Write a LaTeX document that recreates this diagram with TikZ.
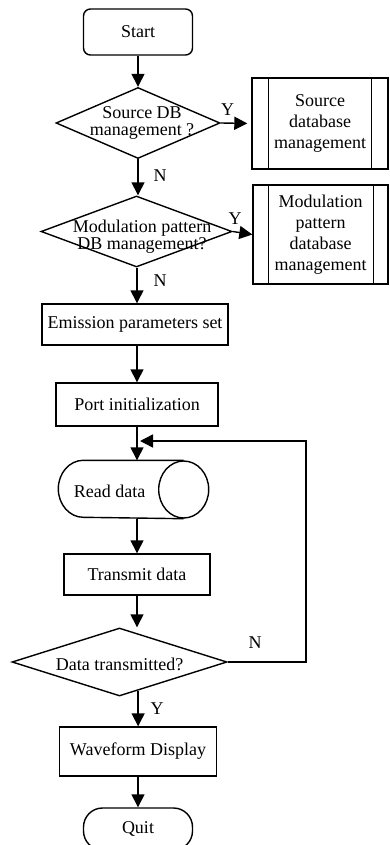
\documentclass[tikz,border=0pt]{standalone}
\usepackage{fontspec}
\setmainfont{Liberation Serif}
\usetikzlibrary{shapes.geometric,arrows.meta,calc}
\begin{document}
\begin{tikzpicture}[x=1pt,y=1pt,
  every node/.style={font=\fontsize{18}{20}\selectfont, inner sep=0pt},
  base/.style={draw, line width=1.4pt},
  proc/.style={base, rectangle},
  term/.style={base, rectangle, rounded corners=7pt},
  dec/.style={base, diamond, inner sep=0pt},
  subr/.style={base, rectangle, align=center, font=\fontsize{18}{21}\selectfont},
  dtxt/.style={align=center, font=\fontsize{18}{17}\selectfont},
  line/.style={line width=1.4pt},
  arr/.style={line width=1.4pt, -{Triangle[length=13pt,width=13pt]}},
]
\useasboundingbox (0,0) rectangle (389,-845);

% nodes
\node[term, minimum width=109pt, minimum height=46pt] (start) at (138,-32) {Start};

\node[dec, minimum width=164pt, minimum height=71pt] (d1) at (138,-123) {};
\node[dtxt] (t1) at (142,-123) {Source DB\\management ?};

\node[subr, minimum width=136pt, minimum height=91pt] (b1) at (320,-123.5) {Source\\database\\management};

\node[dec, minimum width=191pt, minimum height=71pt] (d2) at (136.5,-231.5) {};
\node[dtxt] (t2) at (142,-237) {Modulation pattern\\DB management?};

\node[subr, minimum width=135pt, minimum height=99pt] (b2) at (320.5,-234.5) {Modulation\\pattern\\database\\management};

\node[proc, minimum width=186pt, minimum height=41pt] (emis) at (135,-324.5) {Emission parameters set};
\node[proc, minimum width=162pt, minimum height=43pt] (port) at (137,-404.5) {Port initialization};

% horizontal cylinder (stored data)
\node[rectangle, minimum width=149pt, minimum height=57pt, outer sep=0.7pt] (read) at (133.5,-489.5) {};
\draw[line] ([xshift=-25pt]read.north east) -- ([xshift=25pt]read.north west)
  arc[start angle=90, end angle=270, x radius=25pt, y radius=28.5pt]
  -- ([xshift=-25pt]read.south east);
\draw[line] ([xshift=-25pt]read.east) ellipse [x radius=25pt, y radius=28.5pt];
\node (rt) at (109.5,-491) {Read data};

\node[proc, minimum width=146pt, minimum height=41pt] (trans) at (137,-574.5) {Transmit data};

\node[dec, minimum width=215pt, minimum height=68pt] (d3) at (119.5,-662) {};
\node (t3) at (119.5,-664) {Data transmitted?};

\node[proc, minimum width=157pt, minimum height=49pt] (wave) at (138,-751.5) {Waveform Display};
\node[term, rounded corners=19pt, minimum width=109pt, minimum height=42pt] (quit) at (138,-829) {Quit};

% inner lines of subroutine boxes
\draw[line] ([xshift=17pt]b1.north west) -- ([xshift=17pt]b1.south west);
\draw[line] ([xshift=-17pt]b1.north east) -- ([xshift=-17pt]b1.south east);
\draw[line] ([xshift=16pt]b2.north west) -- ([xshift=16pt]b2.south west);
\draw[line] ([xshift=-15pt]b2.north east) -- ([xshift=-15pt]b2.south east);

% connectors
\draw[arr] (start.south) -- (d1.north);
\draw[arr, shorten >=4pt] (d1.east) -- (b1.west);
\draw[arr] (d1.south) -- (d1.south |- d2.north);
\draw[arr] (d2.east) -- (b2.west);
\draw[arr] (d2.south -| port.north) -- (port.north |- emis.north);
\draw[arr] (port.north |- emis.south) -- (port.north);
\draw[arr] (port.south) -- (port.south |- read.north);
\draw[arr] (trans.north |- read.south) -- (trans.north);
\draw[arr] (trans.south) -- (trans.south |- d3.north);
\coordinate (d3out) at ($(d3.south)!0.172!(d3.east)$);
\draw[arr] (d3out) -- (d3out |- wave.north);
\draw[arr] (wave.south) -- (quit.north);

\coordinate (corner) at (306,-441);
\coordinate (join) at (port.south |- corner);
\draw[arr, shorten >=3pt] (d3.east) -| (corner) -- (join);

% labels
\node (ly1) at (227.5,-110) {Y};
\node (ln1) at (160,-176) {N};
\node (ly2) at (235,-219) {Y};
\node (ln2) at (160,-281) {N};
\node (ln3) at (255,-643) {N};
\node (ly3) at (157,-709) {Y};
\end{tikzpicture}
\end{document}
